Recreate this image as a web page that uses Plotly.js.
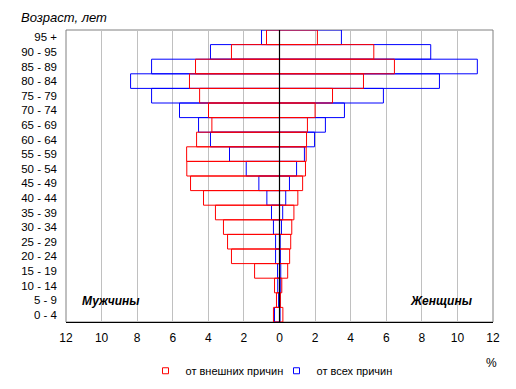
<!DOCTYPE html>
<html>
<head>
<meta charset="utf-8">
<script src="https://cdn.plot.ly/plotly-3.0.1.min.js"></script>
<style>html,body{margin:0;padding:0;background:#fff;}#chart{width:516px;height:389px;}</style>
</head>
<body>
<div id="chart"></div>
<script>
// Age groups, bottom to top
const ageGroups = ["0 - 4","5 - 9","10 - 14","15 - 19","20 - 24","25 - 29","30 - 34","35 - 39","40 - 44","45 - 49","50 - 54","55 - 59","60 - 64","65 - 69","70 - 74","75 - 79","80 - 84","85 - 89","90 - 95","95 +"];
// от внешних причин (external causes), %
const menExternal   = [0.34,0.17,0.28,1.40,2.70,2.92,3.15,3.60,4.27,5.00,5.21,5.22,4.66,3.80,3.99,4.49,5.06,4.72,2.70,0.73];
const womenExternal = [0.19,0.05,0.13,0.46,0.57,0.63,0.69,0.81,1.03,1.30,1.46,1.50,1.52,1.57,2.00,2.98,4.72,6.46,5.30,2.13];
// от всех причин (all causes), %
const menAll   = [0.28,0.05,0.10,0.11,0.22,0.22,0.34,0.45,0.71,1.16,1.87,2.81,3.88,4.55,5.62,7.19,8.37,7.19,3.88,1.01];
const womenAll = [0.03,0.03,0.07,0.07,0.05,0.04,0.11,0.18,0.35,0.56,0.96,1.40,1.97,2.58,3.65,5.84,8.99,11.12,8.50,3.48];
const xTickVals = [-12,-10,-8,-6,-4,-2,0,2,4,6,8,10,12];
const xTickText = ["12","10","8","6","4","2","0","2","4","6","8","10","12"];
const seriesNames = ["от внешних причин","от всех причин"];
const RED = "#FF0000", BLUE = "#0000FF";

function barTrace(vals, color, negate) {
  return {
    type: "bar", orientation: "h",
    y: ageGroups,
    x: vals.map(v => negate ? -v : v),
    marker: {color: "rgba(0,0,0,0)", line: {color: color, width: 1}},
    showlegend: false, hoverinfo: "skip"
  };
}
function legendProxy(name, color, rank) {
  return {
    type: "scatter", mode: "markers", x: [null], y: [null], name: name,
    marker: {symbol: "square", size: 6, color: "#FFFFFF", line: {color: color, width: 1}},
    legendrank: rank, hoverinfo: "skip"
  };
}

const data = [
  barTrace(menAll, BLUE, true),
  barTrace(womenAll, BLUE, false),
  barTrace(menExternal, RED, true),
  barTrace(womenExternal, RED, false),
  legendProxy(seriesNames[0], RED, 1),
  legendProxy(seriesNames[1], BLUE, 2)
];

const FONT = "Liberation Sans, Arial, sans-serif";
const layout = {
  width: 516, height: 389,
  margin: {l: 66, r: 23, t: 30, b: 67, autoexpand: false},
  paper_bgcolor: "#FFFFFF", plot_bgcolor: "#FFFFFF",
  font: {family: FONT, size: 12, color: "#000000"},
  barmode: "overlay", bargap: 0,
  title: {text: "<i>Возраст, лет</i>", x: 21/516, xanchor: "left", xref: "container",
          y: 1 - 17/389, yanchor: "middle", yref: "container", font: {family: FONT, size: 13, color: "#000"}},
  xaxis: {
    range: [-12, 12], tickmode: "array", tickvals: xTickVals, ticktext: xTickText,
    showgrid: true, gridcolor: "#C0C0C0", gridwidth: 1, zeroline: false,
    showline: true, linecolor: "#000000", linewidth: 1, ticks: "",
    ticklabelstandoff: 5, tickfont: {size: 12, family: FONT}, fixedrange: true
  },
  yaxis: {
    type: "category", showgrid: false, zeroline: false, showline: false, ticks: "",
    ticklabelstandoff: 8, tickfont: {size: 11.5, family: FONT}, fixedrange: true
  },
  legend: {orientation: "h", x: 0.493, xanchor: "center", y: -0.167, yanchor: "middle",
           entrywidth: 86, font: {size: 11, family: FONT}, bgcolor: "rgba(0,0,0,0)"},
  shapes: [
    {type: "rect", xref: "paper", yref: "paper", x0: 0, x1: 1, y0: 0, y1: 1,
     line: {color: "#808080", width: 1}, layer: "below"},
    {type: "line", xref: "x", yref: "paper", x0: 0, x1: 0, y0: 0, y1: 1,
     line: {color: "#000000", width: 1.2}, layer: "above"}
  ],
  annotations: [
    {text: "<b><i>Мужчины</i></b>", xref: "paper", yref: "paper", x: 0.105, y: 0.0705,
     xanchor: "center", yanchor: "middle", showarrow: false, font: {size: 12, family: FONT}},
    {text: "<b><i>Женщины</i></b>", xref: "paper", yref: "paper", x: 0.879, y: 0.0705,
     xanchor: "center", yanchor: "middle", showarrow: false, font: {size: 12, family: FONT}},
    {text: "%", xref: "paper", yref: "paper", x: 0.996, y: -0.142,
     xanchor: "center", yanchor: "middle", showarrow: false, font: {size: 12, family: FONT}}
  ]
};

Plotly.newPlot("chart", data, layout, {displayModeBar: false, staticPlot: true});
</script>
</body>
</html>
